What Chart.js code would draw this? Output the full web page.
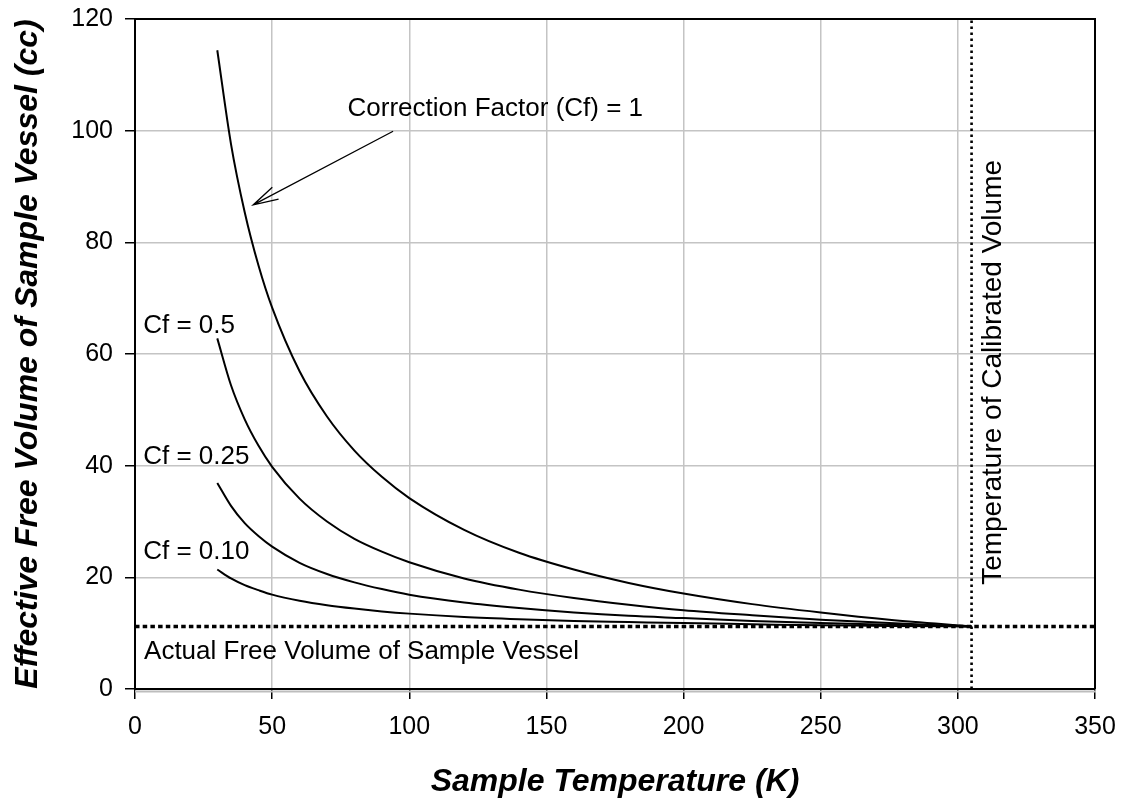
<!DOCTYPE html>
<html>
<head>
<meta charset="utf-8">
<title>Effective Free Volume vs Sample Temperature</title>
<script src="https://cdn.jsdelivr.net/npm/chart.js@4.4.1/dist/chart.umd.min.js"></script>
<style>
  html, body { margin: 0; padding: 0; background: #fff; }
  canvas { display: block; }
</style>
</head>
<body>
<canvas id="chart" width="1127" height="805"></canvas>
<script>
// Sample temperatures (K) at which each curve is plotted
const temperatures = [30, 35, 40, 45, 50, 60, 70, 80, 90, 100, 120, 140, 160, 180, 200, 225, 250, 275, 305];

// Effective free volume (cc) for each correction factor
const volumeCf100 = [114.4, 97.6, 85.4, 75.9, 68.3, 56.9, 48.8, 42.7, 38.0, 34.2, 28.5, 24.4, 21.4, 19.0, 17.1, 15.2, 13.7, 12.4, 11.2];
const volumeCf050 = [62.8, 54.4, 48.3, 43.6, 39.8, 34.1, 30.0, 26.9, 24.6, 22.7, 19.8, 17.8, 16.3, 15.1, 14.1, 13.2, 12.4, 11.8, 11.2];
const volumeCf025 = [36.9, 32.8, 29.7, 27.4, 25.5, 22.6, 20.6, 19.1, 17.9, 16.9, 15.5, 14.5, 13.7, 13.1, 12.7, 12.2, 11.8, 11.5, 11.2];
const volumeCf010 = [21.4, 19.8, 18.6, 17.7, 16.9, 15.8, 15.0, 14.4, 13.9, 13.5, 12.9, 12.5, 12.2, 12.0, 11.8, 11.6, 11.4, 11.3, 11.2];

// Reference levels
const actualFreeVolume = 11.2;      // cc
const calibrationTemperature = 305; // K

// Axis tick layout
const xTickStep = 50;
const yTickStep = 20;
const xRange = [0, 350];
const yRange = [0, 120];

const FONT = '"Liberation Sans", Arial, Helvetica, sans-serif';

function toPoints(xs, ys) {
  return xs.map((x, i) => ({ x: x, y: ys[i] }));
}

function curve(values) {
  return {
    data: toPoints(temperatures, values),
    borderColor: '#000',
    borderWidth: 2,
    pointRadius: 0,
    fill: false,
    cubicInterpolationMode: 'monotone'
  };
}

// Text notes and the arrow, placed in data coordinates
const notes = [
  { text: 'Correction Factor (Cf) = 1', x: 77.5, y: 103.9 },
  { text: 'Cf = 0.5', x: 3.0, y: 65.0 },
  { text: 'Cf = 0.25', x: 3.0, y: 41.5 },
  { text: 'Cf = 0.10', x: 3.0, y: 24.5 },
  { text: 'Actual Free Volume of Sample Vessel', x: 3.3, y: 6.7 }
];
const arrow = { from: { x: 94.1, y: 99.9 }, to: { x: 43.1, y: 86.7 } };
const verticalNote = { text: 'Temperature of Calibrated Volume', x: 312.8, y: 56.7 };

const annotations = {
  id: 'annotations',
  beforeDatasetsDraw(chart) {
    const { ctx, chartArea: a } = chart;
    ctx.save();
    // soft shadow under the bottom axis
    ctx.strokeStyle = '#bdbdbd';
    ctx.lineWidth = 2;
    ctx.beginPath();
    ctx.moveTo(a.left, a.bottom + 2.5);
    ctx.lineTo(a.right + 1, a.bottom + 2.5);
    ctx.stroke();
    ctx.restore();
  },
  afterDatasetsDraw(chart) {
    const { ctx, chartArea: a, scales: { x, y } } = chart;
    ctx.save();
    // frame on top and right
    ctx.strokeStyle = '#000';
    ctx.lineWidth = 2;
    ctx.beginPath();
    ctx.moveTo(a.left, a.top);
    ctx.lineTo(a.right, a.top);
    ctx.lineTo(a.right, a.bottom);
    ctx.stroke();

    ctx.fillStyle = '#000';
    ctx.font = '26px ' + FONT;
    ctx.textAlign = 'left';
    ctx.textBaseline = 'middle';
    notes.forEach(n => {
      ctx.fillText(n.text, x.getPixelForValue(n.x), y.getPixelForValue(n.y));
    });

    // vertical note beside the calibration line
    ctx.save();
    ctx.font = '28px ' + FONT;
    ctx.translate(x.getPixelForValue(verticalNote.x), y.getPixelForValue(verticalNote.y));
    ctx.rotate(-Math.PI / 2);
    ctx.textAlign = 'center';
    ctx.fillText(verticalNote.text, 0, 0);
    ctx.restore();

    // arrow pointing at the Cf = 1 curve
    const x1 = x.getPixelForValue(arrow.from.x), y1 = y.getPixelForValue(arrow.from.y);
    const x2 = x.getPixelForValue(arrow.to.x), y2 = y.getPixelForValue(arrow.to.y);
    const ang = Math.atan2(y1 - y2, x1 - x2);
    const head = 26, spread = 15 * Math.PI / 180;
    ctx.lineWidth = 1.3;
    ctx.beginPath();
    ctx.moveTo(x1, y1);
    ctx.lineTo(x2, y2);
    ctx.moveTo(x2 + head * Math.cos(ang - spread), y2 + head * Math.sin(ang - spread));
    ctx.lineTo(x2, y2);
    ctx.lineTo(x2 + head * Math.cos(ang + spread), y2 + head * Math.sin(ang + spread));
    ctx.stroke();
    ctx.restore();
  }
};

new Chart(document.getElementById('chart'), {
  type: 'line',
  data: {
    datasets: [
      curve(volumeCf100),
      curve(volumeCf050),
      curve(volumeCf025),
      curve(volumeCf010),
      {
        data: [{ x: xRange[0], y: actualFreeVolume }, { x: xRange[1], y: actualFreeVolume }],
        borderColor: '#000',
        borderWidth: 3.5,
        borderDash: [4.5, 3.2],
        pointRadius: 0,
        fill: false
      },
      {
        data: [{ x: calibrationTemperature, y: yRange[0] }, { x: calibrationTemperature, y: yRange[1] }],
        borderColor: '#000',
        borderWidth: 2.6,
        borderDash: [2.5, 3.5],
        pointRadius: 0,
        fill: false
      }
    ]
  },
  options: {
    responsive: false,
    animation: false,
    devicePixelRatio: 1,
    layout: { padding: { top: 19, right: 32, left: 0, bottom: 0 } },
    plugins: {
      legend: { display: false },
      tooltip: { enabled: false }
    },
    scales: {
      x: {
        type: 'linear',
        min: xRange[0],
        max: xRange[1],
        afterFit(scale) {
          scale.height = 116;
          scale.paddingLeft = 0;
          scale.paddingRight = 0;
        },
        ticks: {
          stepSize: xTickStep,
          color: '#000',
          font: { family: FONT, size: 25 },
          padding: 13,
          maxRotation: 0
        },
        grid: {
          color: '#c4c4c4',
          lineWidth: 1.5,
          tickColor: '#000',
          tickLength: 10,
          tickWidth: 1.5
        },
        border: { color: '#000', width: 2 },
        title: {
          display: true,
          text: 'Sample Temperature (K)',
          color: '#000',
          font: { family: FONT, size: 32, weight: 'bold', style: 'italic' },
          padding: { top: 0, bottom: 4 }
        }
      },
      y: {
        type: 'linear',
        min: yRange[0],
        max: yRange[1],
        afterFit(scale) {
          scale.width = 135;
          scale.paddingTop = 0;
          scale.paddingBottom = 0;
        },
        ticks: {
          stepSize: yTickStep,
          color: '#000',
          font: { family: FONT, size: 25 },
          padding: 12
        },
        grid: {
          color: '#c4c4c4',
          lineWidth: 1.5,
          tickColor: '#000',
          tickLength: 10,
          tickWidth: 1.5
        },
        border: { color: '#000', width: 2 },
        title: {
          display: true,
          text: 'Effective Free Volume of Sample Vessel (cc)',
          color: '#000',
          font: { family: FONT, size: 32, weight: 'bold', style: 'italic' },
          padding: { top: 9, bottom: 0 }
        }
      }
    }
  },
  plugins: [annotations]
});
</script>
</body>
</html>
